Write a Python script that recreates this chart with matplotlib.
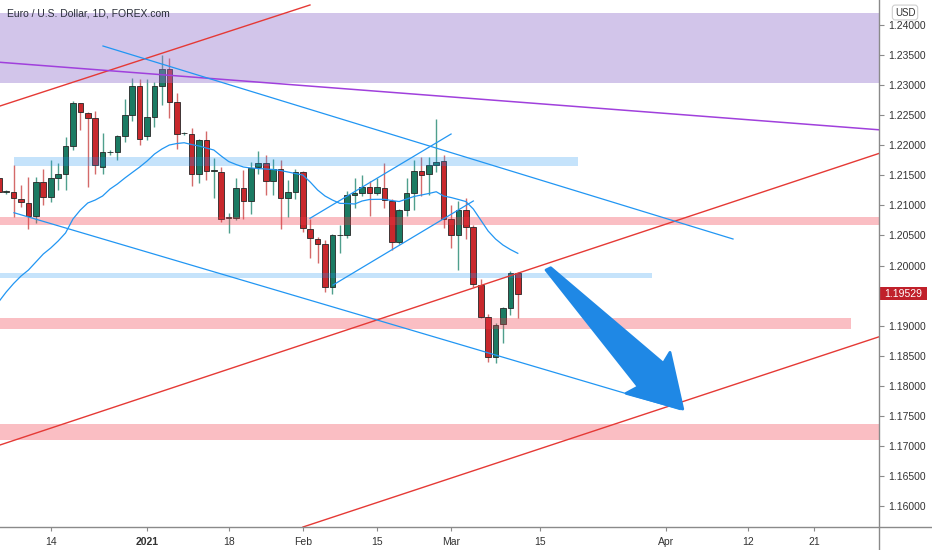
import numpy as np
import matplotlib
matplotlib.use("Agg")
import matplotlib.pyplot as plt
from matplotlib.patches import Rectangle, Polygon
from matplotlib.lines import Line2D

plt.rcParams['font.family'] = ['Liberation Sans', 'DejaVu Sans']

# ---------------- data (EUR/USD daily, FOREX.com) ----------------
dates = ['2020-12-04','2020-12-06','2020-12-07','2020-12-08','2020-12-09','2020-12-10','2020-12-11',
         '2020-12-14','2020-12-15','2020-12-16','2020-12-17','2020-12-18','2020-12-21','2020-12-22',
         '2020-12-23','2020-12-24','2020-12-28','2020-12-29','2020-12-30','2020-12-31','2021-01-04',
         '2021-01-05','2021-01-06','2021-01-07','2021-01-08','2021-01-10','2021-01-11','2021-01-12',
         '2021-01-13','2021-01-14','2021-01-15','2021-01-18','2021-01-19','2021-01-20','2021-01-21',
         '2021-01-22','2021-01-25','2021-01-26','2021-01-27','2021-01-28','2021-01-29','2021-02-01',
         '2021-02-02','2021-02-03','2021-02-04','2021-02-05','2021-02-08','2021-02-09','2021-02-10',
         '2021-02-11','2021-02-12','2021-02-15','2021-02-16','2021-02-17','2021-02-18','2021-02-19',
         '2021-02-22','2021-02-23','2021-02-24','2021-02-25','2021-02-26','2021-03-01','2021-03-02',
         '2021-03-03','2021-03-04','2021-03-05','2021-03-08','2021-03-09','2021-03-10','2021-03-11',
         '2021-03-12']

opens = [1.2146,1.2122,1.2123,1.2111,1.2104,1.2082,1.2139,1.2114,1.2146,1.2152,1.2199,1.2270,1.2253,1.2245,
         1.2164,1.2188,1.2188,1.2215,1.2250,1.2299,1.2215,1.2247,1.2299,1.2327,1.2272,1.2220,1.2219,1.2152,
         1.2209,1.2158,1.2156,1.2079,1.2079,1.2129,1.2107,1.2164,1.2170,1.2141,1.2160,1.2112,1.2123,1.2156,
         1.2061,1.2044,1.2036,1.1965,1.2050,1.2050,1.2118,1.2121,1.2131,1.2121,1.2129,1.2108,1.2039,1.2092,
         1.2120,1.2157,1.2152,1.2168,1.2173,1.2077,1.2050,1.2092,1.2064,1.1968,1.1914,1.1848,1.1903,1.1929,
         1.1988]
highs = [1.2178,1.2125,1.2167,1.2134,1.2148,1.2148,1.2160,1.2175,1.2170,1.2214,1.2273,1.2271,1.2256,1.2257,
         1.2220,1.2192,1.2217,1.2277,1.2312,1.2311,1.2310,1.2305,1.2350,1.2345,1.2287,1.2222,1.2229,1.2210,
         1.2224,1.2179,1.2164,1.2088,1.2145,1.2159,1.2172,1.2190,1.2184,1.2177,1.2175,1.2142,1.2160,1.2158,
         1.2077,1.2047,1.2042,1.2053,1.2067,1.2124,1.2145,1.2151,1.2140,1.2145,1.2170,1.2110,1.2094,1.2145,
         1.2175,1.2181,1.2180,1.2243,1.2184,1.2101,1.2108,1.2113,1.2067,1.1978,1.1920,1.1905,1.1931,1.1991,
         1.1989]
lows = [1.2114,1.2119,1.2081,1.2098,1.2060,1.2070,1.2100,1.2105,1.2126,1.2126,1.2192,1.2225,1.2131,1.2153,
        1.2153,1.2184,1.2175,1.2206,1.2240,1.2200,1.2208,1.2230,1.2267,1.2245,1.2194,1.2217,1.2132,1.2138,
        1.2142,1.2112,1.2072,1.2054,1.2075,1.2077,1.2085,1.2152,1.2117,1.2117,1.2060,1.2081,1.2110,1.2055,
        1.2012,1.2004,1.1956,1.1952,1.2021,1.2045,1.2095,1.2116,1.2082,1.2117,1.2095,1.2025,1.2035,1.2082,
        1.2092,1.2116,1.2117,1.2156,1.2062,1.2029,1.1993,1.2044,1.1965,1.1912,1.1840,1.1838,1.1871,1.1918,
        1.1912]
closes = [1.2122,1.2122,1.2112,1.2106,1.2082,1.2139,1.2114,1.2146,1.2152,1.2199,1.2270,1.2255,1.2245,1.2167,
          1.2188,1.2188,1.2215,1.2250,1.2299,1.2210,1.2247,1.2299,1.2327,1.2272,1.2219,1.2220,1.2152,1.2209,
          1.2158,1.2158,1.2077,1.2079,1.2129,1.2107,1.2163,1.2170,1.2141,1.2160,1.2112,1.2123,1.2156,1.2062,
          1.2045,1.2036,1.1965,1.2050,1.2050,1.2118,1.2120,1.2131,1.2121,1.2131,1.2109,1.2039,1.2092,1.2120,
          1.2157,1.2151,1.2167,1.2172,1.2077,1.2050,1.2092,1.2064,1.1969,1.1914,1.1848,1.1901,1.1929,1.1988,
          1.19529]
# moving-average indicator line (one value per bar)
ma_line = [1.19398,1.19559,1.19701,1.19825,1.19925,1.20058,1.20191,1.20291,1.20407,1.20541,1.20773,1.20923,
           1.21040,1.21089,1.21156,1.21272,1.21356,1.21455,1.21547,1.21638,1.21738,1.21854,1.21938,1.22004,
           1.22029,1.22042,1.22012,1.21988,1.21954,1.21921,1.21821,1.21730,1.21680,1.21638,1.21622,1.21613,
           1.21605,1.21597,1.21580,1.21555,1.21530,1.21505,1.21389,1.21256,1.21156,1.21089,1.21034,1.21031,
           1.21023,1.21073,1.21098,1.21101,1.21101,1.21081,1.21064,1.21106,1.21148,1.21173,1.21198,1.21227,
           1.21156,1.21131,1.21098,1.21064,1.20940,1.20757,1.20574,1.20441,1.20341,1.20266,1.20203]

last_price = "1.19529"

# x-axis labels (bar-slot positions; future slots are calendar days)
xtick_slots = [7, 20, 31, 41, 51, 61, 73, 90, 101, 110]
xtick_labels = ['14', '2021', '18', 'Feb', '15', 'Mar', '15', 'Apr', '12', '21']
# 1.19500 is hidden behind the last-price label
ytick_values = [1.16, 1.165, 1.17, 1.175, 1.18, 1.185, 1.19, 1.20, 1.205, 1.21, 1.215,
                1.22, 1.225, 1.23, 1.235, 1.24]

# drawings: (slot, price) anchors
purple_zone = (1.23040, 1.24195)
blue_zones = [((2.05, 78.1), (1.21655, 1.21805)), ((0.0, 88.06), (1.19797, 1.19870))]
pink_zones = [((0.0, 125.0), (1.20674, 1.20812)), ((0.0, 114.9), (1.18944, 1.19122)),
              ((0.0, 125.0), (1.17098, 1.17364))]
red_lines = [((0.162, 1.22653), (41.97, 1.24333)),
             ((0.162, 1.17015), (118.76, 1.21866)),
             ((41.03, 1.15651), (118.76, 1.18816))]
purple_line = ((0.162, 1.23380), (118.76, 1.22257))
blue_lines = [((14.05, 1.23651), (99.03, 1.20441)),
              ((2.05, 1.20878), (91.88, 1.17605)),
              ((45.08, 1.19676), (64.0, 1.21073)),
              ((41.97, 1.20785), (61.0, 1.22187))]
arrow_pts = [(73.81, 1.19925), (86.26, 1.17984), (84.60, 1.17874), (92.25, 1.17613),
             (90.53, 1.18556), (89.63, 1.18373), (74.44, 1.19963)]

# ---------------- figure ----------------
W, H = 932, 550
fig = plt.figure(figsize=(W / 100, H / 100), dpi=100)
fig.patch.set_facecolor('white')
plot_right = 879.3
plot_bottom = 527
ymin, ymax = 1.15651, 1.24416
ax = fig.add_axes([0, 1 - plot_bottom / H, plot_right / W, plot_bottom / H])
ax.set_facecolor('white')
ax.set_xlim(0.162, 118.76)
ax.set_ylim(ymin, ymax)
for s in ax.spines.values():
    s.set_visible(False)

x = np.arange(len(dates))
up_body, dn_body = '#1b7b63', '#c8282c'
up_wick, dn_wick = '#4f9f8d', '#d46a6a'
edge = '#262626'
bw = 0.76
for i in range(len(dates)):
    o, h, l, c = opens[i], highs[i], lows[i], closes[i]
    up = c >= o
    ax.plot([x[i], x[i]], [l, h], color=up_wick if up else dn_wick, lw=1.0, zorder=2,
            solid_capstyle='butt')
    bot = min(o, c)
    ht = max(abs(c - o), 0.00012)
    ax.add_patch(Rectangle((x[i] - bw / 2, bot), bw, ht, facecolor=up_body if up else dn_body,
                           edgecolor=edge, lw=0.6, zorder=3))

# zones
ax.axhspan(purple_zone[0], purple_zone[1], color=(149/255, 117/255, 205/255), alpha=0.42, lw=0, zorder=4)
for (x0, x1), (y0, y1) in blue_zones:
    ax.add_patch(Rectangle((x0, y0), x1 - x0, y1 - y0, facecolor=(33/255, 150/255, 243/255),
                           alpha=0.26, lw=0, zorder=4))
for (x0, x1), (y0, y1) in pink_zones:
    ax.add_patch(Rectangle((x0, y0), x1 - x0, y1 - y0, facecolor=(242/255, 54/255, 69/255),
                           alpha=0.32, lw=0, zorder=4))

# lines
for (a, b) in red_lines:
    ax.plot([a[0], b[0]], [a[1], b[1]], color='#e53935', lw=1.0, zorder=5)
ax.plot([purple_line[0][0], purple_line[1][0]], [purple_line[0][1], purple_line[1][1]],
        color='#a040dc', lw=1.1, zorder=5)
for (a, b) in blue_lines:
    ax.plot([a[0], b[0]], [a[1], b[1]], color='#2196f3', lw=0.9, zorder=5)
ax.plot(x, ma_line, color='#2196f3', lw=0.9, zorder=5)

# arrow
ax.add_patch(Polygon(arrow_pts, closed=True, facecolor='#1f88e5', edgecolor='#1f88e5',
                     lw=2.0, joinstyle='round', zorder=6))

# ticks
ax.yaxis.tick_right()
ax.set_yticks(ytick_values)
ax.set_yticklabels([f'{v:.5f}' for v in ytick_values])
ax.tick_params(axis='y', length=3.5, width=0.8, color='#8a8a8a', pad=3, labelsize=7.5,
               labelcolor='#333333')
ax.set_xticks(xtick_slots)
ax.set_xticklabels(xtick_labels)
ax.tick_params(axis='x', length=3, width=0.8, color='#8a8a8a', pad=4, labelsize=7.5,
               labelcolor='#333333')
for t in ax.get_xticklabels():
    if t.get_text() == '2021':
        t.set_fontweight('bold')

# axis lines across the figure
fig.add_artist(Line2D([0, 1], [1 - plot_bottom / H] * 2, transform=fig.transFigure,
                      color='#8a8a8a', lw=1.0))
fig.add_artist(Line2D([plot_right / W] * 2, [0, 1], transform=fig.transFigure,
                      color='#8a8a8a', lw=1.0))

# title
fig.text(7 / W, 1 - 13 / H, 'Euro / U.S. Dollar, 1D, FOREX.com', fontsize=7.5, color='#2a2e39',
         ha='left', va='center')

# currency box
fig.text(905 / W, 1 - 12.5 / H, 'USD', fontsize=7, color='#333333', ha='center', va='center',
         bbox=dict(boxstyle='round,pad=0.25,rounding_size=0.3', fc='white', ec='#cfcfcf', lw=0.8))

# last price label
price_val = float(last_price)
yfrac = (1 - plot_bottom / H) + (price_val - ymin) / (ymax - ymin) * (plot_bottom / H)
fig.add_artist(Rectangle((plot_right / W, yfrac - 6.5 / H), 48 / W, 13 / H, transform=fig.transFigure,
                         facecolor='#c0202a', edgecolor='none'))
fig.text(903.5 / W, yfrac, last_price, fontsize=7.5, color='white', ha='center', va='center')

fig.savefig('out.png', dpi=100, facecolor='white')
